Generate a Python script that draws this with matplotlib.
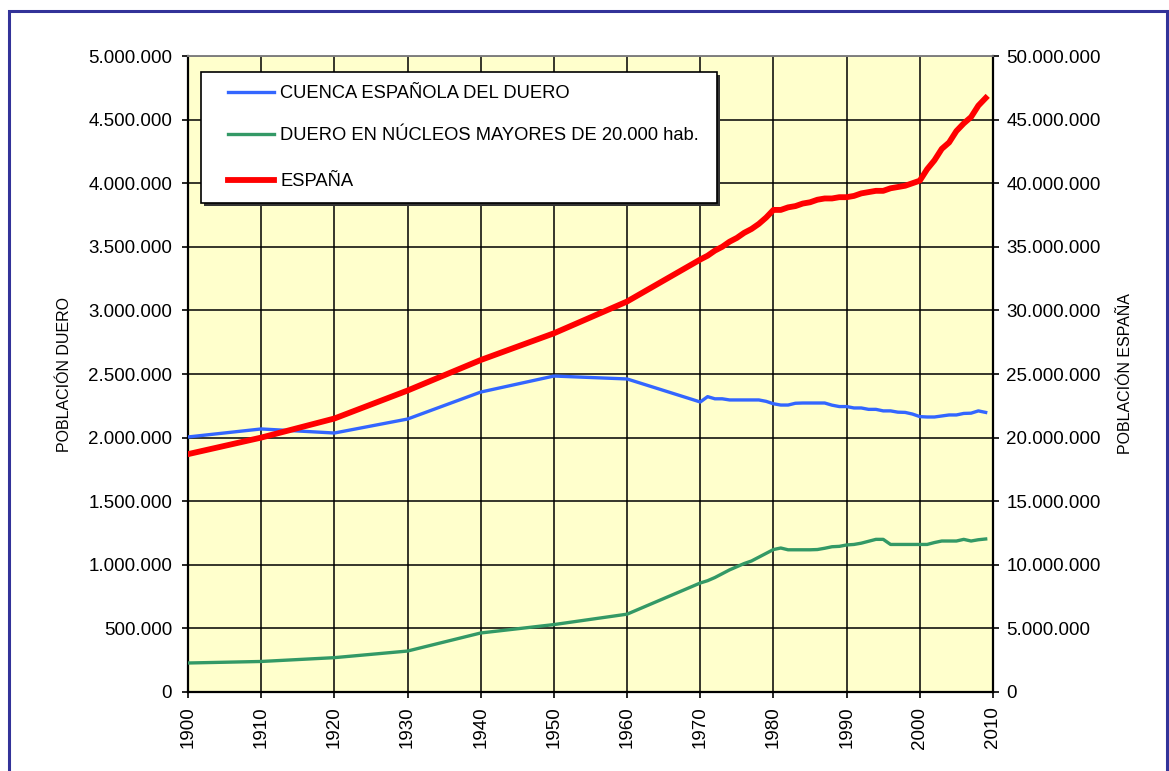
import matplotlib
matplotlib.use("Agg")
import matplotlib.pyplot as plt
from matplotlib.ticker import FuncFormatter, MultipleLocator
from matplotlib.lines import Line2D
from matplotlib.patches import Rectangle

plt.rcParams['font.family'] = ['Liberation Sans', 'DejaVu Sans']

# ---- data ----
years_duero = [1900, 1910, 1920, 1930, 1940, 1950, 1960, 1970,
               1971, 1972, 1973, 1974, 1975, 1976, 1977, 1978, 1979,
               1980, 1981, 1982, 1983, 1984, 1985, 1986, 1987, 1988, 1989,
               1990, 1991, 1992, 1993, 1994, 1995, 1996, 1997, 1998, 1999,
               2000, 2001, 2002, 2003, 2004, 2005, 2006, 2007, 2008, 2009]

cuenca_duero = [2005000, 2068000, 2036000, 2146000, 2358000, 2484000, 2461000, 2280000,
                2322000, 2305000, 2305000, 2296000, 2296000, 2296000, 2296000, 2296000, 2285000,
                2266000, 2256000, 2256000, 2270000, 2272000, 2272000, 2272000, 2272000, 2255000, 2244000,
                2244000, 2233000, 2233000, 2222000, 2222000, 2210000, 2210000, 2200000, 2198000, 2185000,
                2165000, 2162000, 2162000, 2170000, 2178000, 2178000, 2190000, 2192000, 2210000, 2198000]

nucleos_mayores = [228000, 240000, 270000, 322000, 464000, 530000, 612000, 857000,
                   875000, 900000, 930000, 960000, 985000, 1010000, 1030000, 1060000, 1090000,
                   1120000, 1132000, 1118000, 1118000, 1118000, 1118000, 1120000, 1130000, 1142000, 1145000,
                   1156000, 1160000, 1170000, 1185000, 1200000, 1200000, 1160000, 1160000, 1160000, 1160000,
                   1160000, 1160000, 1175000, 1187000, 1187000, 1187000, 1200000, 1187000, 1197000, 1203000]

years_espana = years_duero
espana = [18700000, 20000000, 21500000, 23700000, 26100000, 28200000, 30700000, 34000000,
          34300000, 34700000, 35000000, 35400000, 35700000, 36100000, 36400000, 36800000, 37300000,
          37900000, 37900000, 38100000, 38200000, 38400000, 38500000, 38700000, 38800000, 38800000, 38900000,
          38900000, 39000000, 39200000, 39300000, 39400000, 39400000, 39600000, 39700000, 39800000, 40000000,
          40200000, 41100000, 41800000, 42700000, 43200000, 44100000, 44700000, 45200000, 46100000, 46700000]

labels = ["CUENCA ESPAÑOLA DEL DUERO",
          "DUERO EN NÚCLEOS MAYORES DE 20.000 hab.",
          "ESPAÑA"]
colors = ["#3366FF", "#339966", "#FF0000"]
widths = [2.4, 2.4, 4.2]

W, H = 1169, 771
def fx(px):
    return px / W
def fy(py):
    return 1 - py / H

# ---- figure ----
fig = plt.figure(figsize=(W/100, H/100), dpi=100)
fig.patch.set_facecolor("white")
ax = fig.add_axes([fx(188), fy(692), (993-188)/W, (692-56)/H])
ax.set_facecolor("#FFFFCC")

fmt = FuncFormatter(lambda v, p: f"{int(round(v)):,}".replace(",", "."))

ax.plot(years_duero, cuenca_duero, color=colors[0], lw=widths[0], zorder=3)
ax.plot(years_duero, nucleos_mayores, color=colors[1], lw=widths[1], zorder=3)
ax.set_xlim(1900, 2010)
ax.set_ylim(0, 5000000)
ax.xaxis.set_major_locator(MultipleLocator(10))
ax.yaxis.set_major_locator(MultipleLocator(500000))
ax.yaxis.set_major_formatter(fmt)
ax.grid(True, color="black", lw=1.1, zorder=1)
ax.set_axisbelow(True)
ax.tick_params(axis='y', direction='out', length=4.5, width=1.2, pad=7, labelsize=13.5, colors='black')
ax.tick_params(axis='x', direction='out', length=4.5, width=1.2, pad=6, labelsize=13.5, labelrotation=90)
ax.set_ylabel("POBLACIÓN DUERO", fontsize=11.5)
ax.yaxis.set_label_coords((72-188)/805, 0.5)
for s in ['left', 'bottom']:
    ax.spines[s].set_linewidth(1.6)
    ax.spines[s].set_color('black')
ax.spines['top'].set_color('#808080')
ax.spines['top'].set_linewidth(1.2)
ax.spines['right'].set_visible(False)

ax2 = ax.twinx()
ax2.plot(years_espana, espana, color=colors[2], lw=widths[2], zorder=3)
ax2.set_ylim(0, 50000000)
ax2.yaxis.set_major_locator(MultipleLocator(5000000))
ax2.yaxis.set_major_formatter(fmt)
ax2.tick_params(axis='y', direction='out', length=4.5, width=1.2, pad=5, labelsize=13.5)
ax2.set_ylabel("POBLACIÓN ESPAÑA", fontsize=11.5, rotation=90)
ax2.yaxis.set_label_coords((1118-188)/805, 0.5)
ax2.spines['right'].set_linewidth(1.6)
ax2.spines['right'].set_color('black')
ax2.spines['top'].set_color('#808080')
ax2.spines['top'].set_linewidth(1.2)
ax2.spines['left'].set_visible(False)
ax2.spines['bottom'].set_visible(False)

# ---- legend (drawn as a boxed key) ----
lx0, ly0, lx1, ly1 = 201, 72, 717, 203
fig.patches.append(Rectangle((fx(lx0 + 3), fy(ly1 + 3)), (lx1 - lx0)/W, (ly1 - ly0)/H,
                             transform=fig.transFigure, facecolor="#333333",
                             edgecolor="none", zorder=20))
fig.patches.append(Rectangle((fx(lx0), fy(ly1)), (lx1 - lx0)/W, (ly1 - ly0)/H,
                             transform=fig.transFigure, facecolor="white",
                             edgecolor="black", lw=1.2, zorder=21))
rows_y = [92, 134, 180]
for lab, col, lw, ry in zip(labels, colors, widths, rows_y):
    fig.lines.append(Line2D([fx(228), fx(274)], [fy(ry), fy(ry)], color=col, lw=lw,
                            transform=fig.transFigure, zorder=22))
    fig.text(fx(280), fy(ry + 6.5), lab, fontsize=13.2, va='baseline', ha='left', zorder=23)

# outer border
fig.patches.append(Rectangle((fx(9), -0.02), (1167-9)/W, fy(11) + 0.02,
                             transform=fig.transFigure, fill=False,
                             edgecolor="#333399", lw=2.2, zorder=30))

fig.savefig("out.png", dpi=100)
